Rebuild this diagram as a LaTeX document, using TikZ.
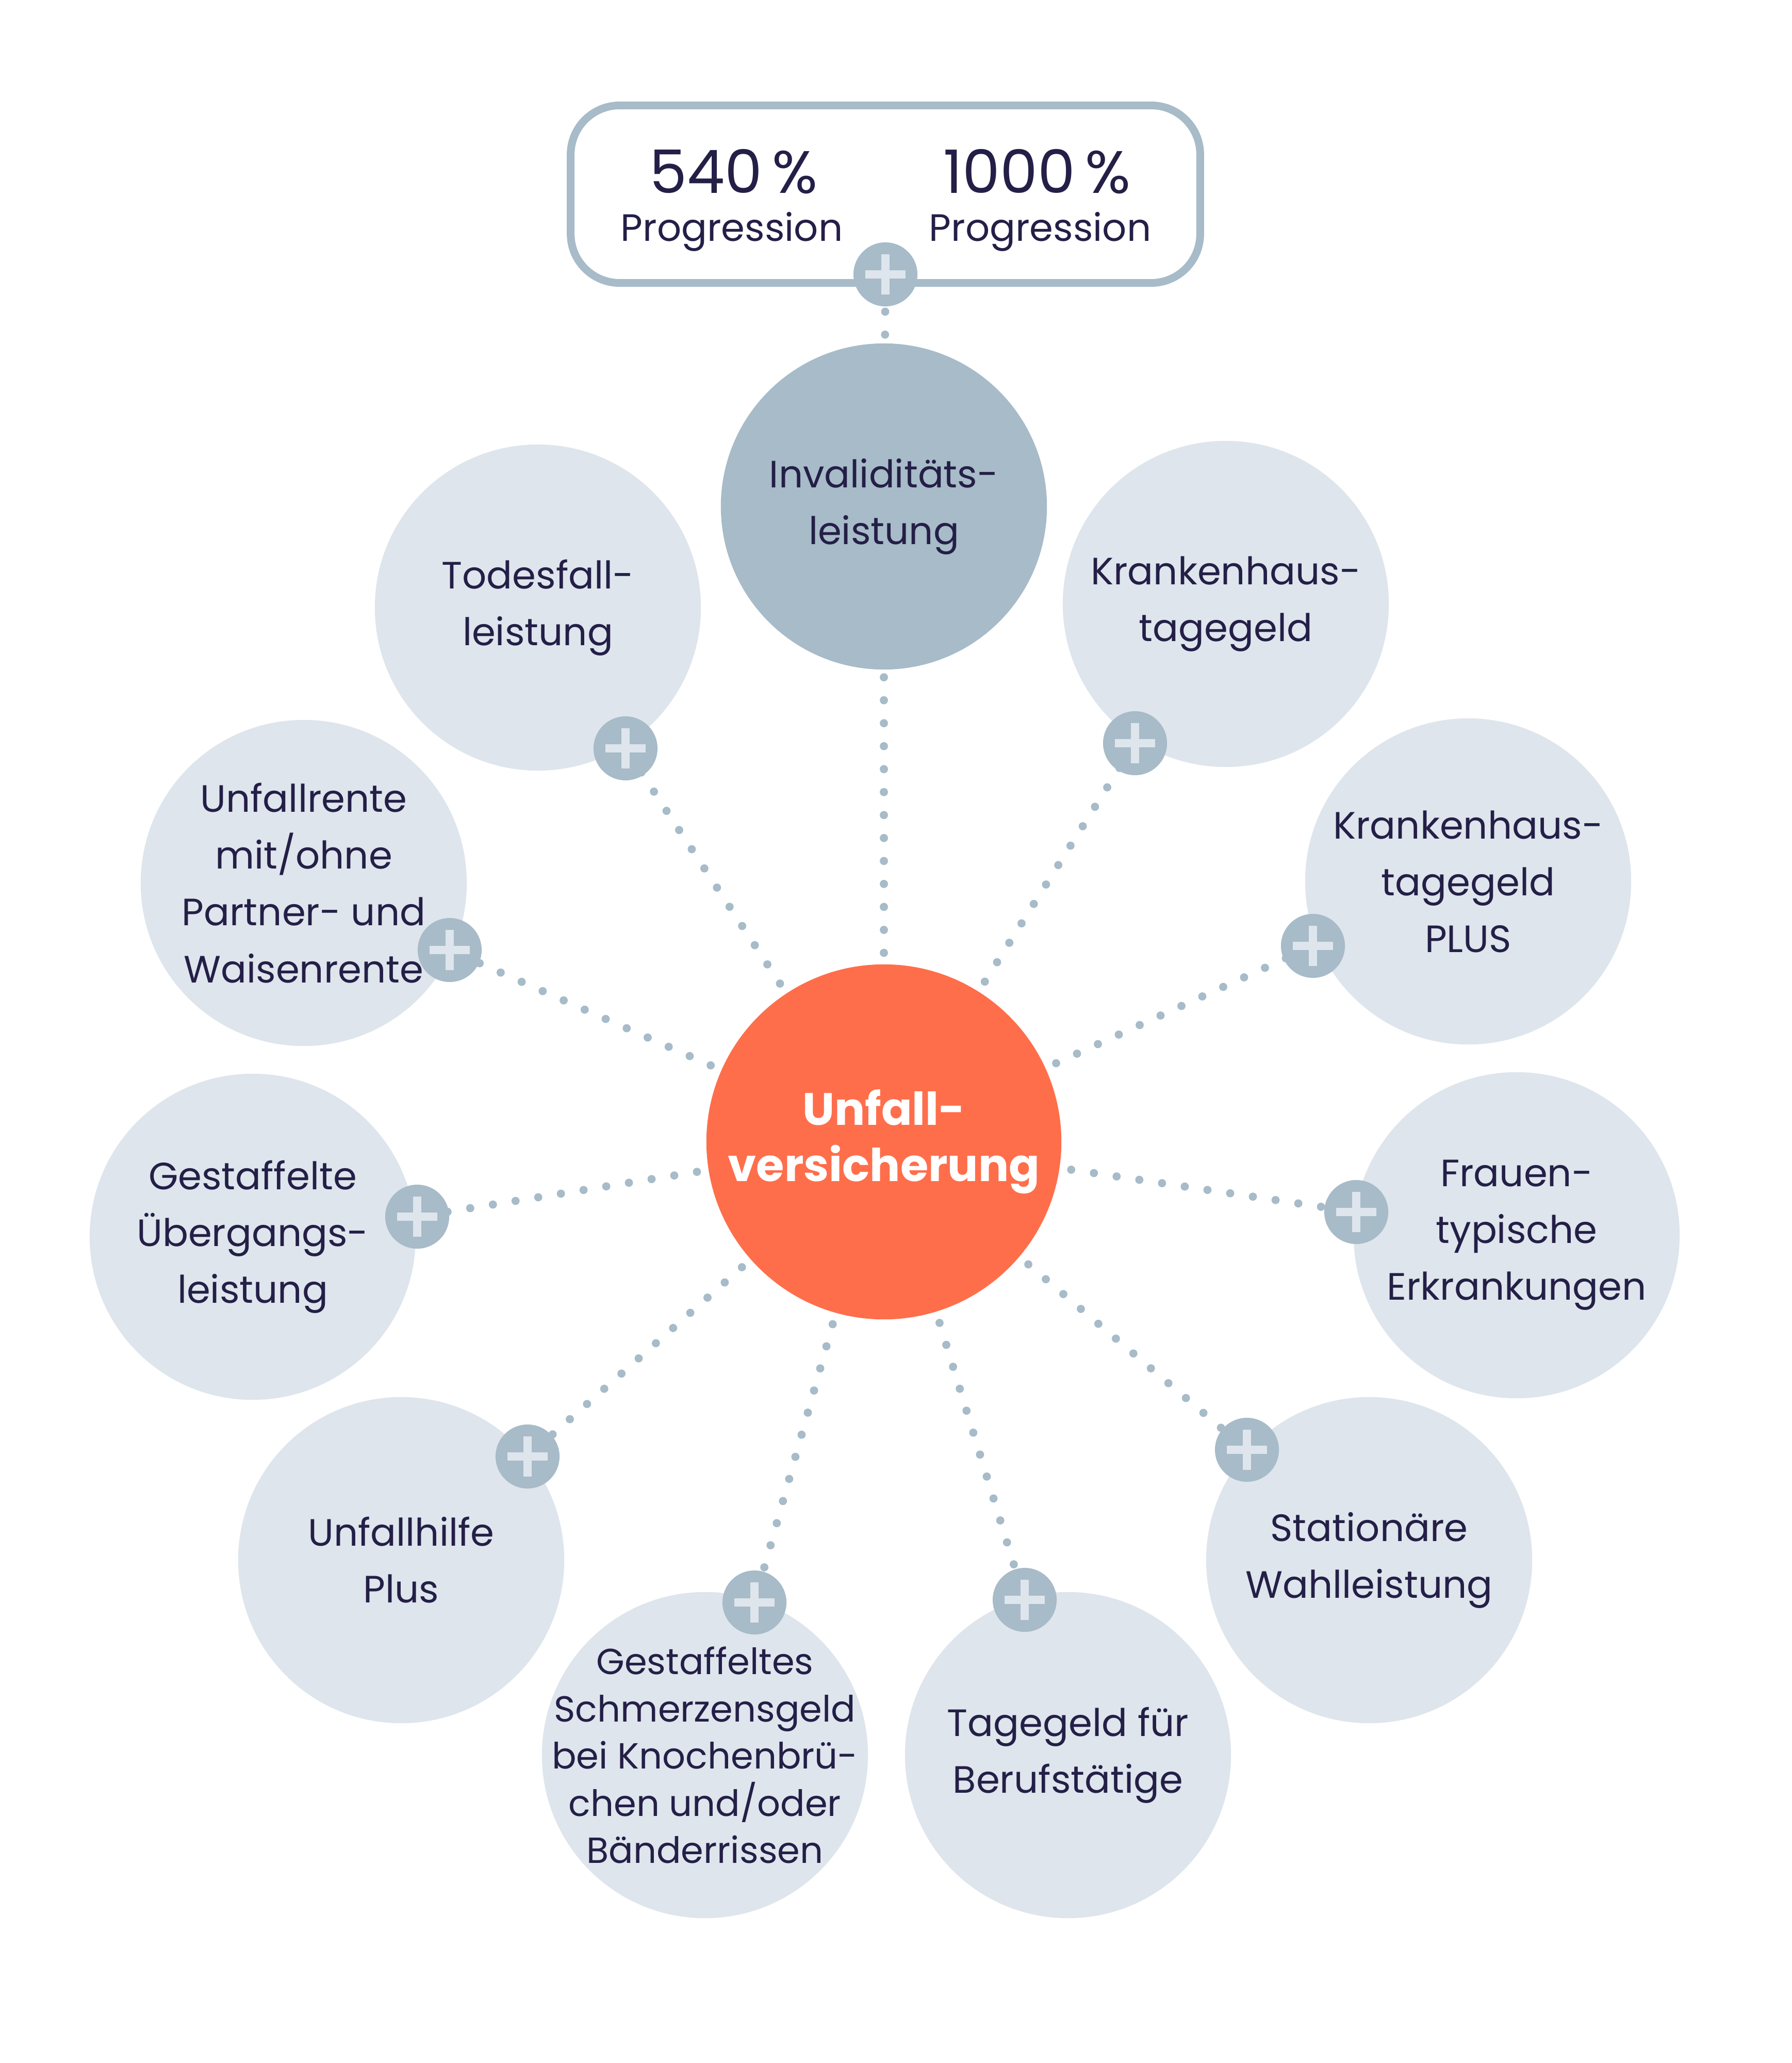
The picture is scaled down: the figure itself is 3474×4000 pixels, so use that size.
\documentclass[tikz,border=0pt]{standalone}
\usepackage{fontspec}
\setmainfont{Poppins}
\usetikzlibrary{calc}
\definecolor{navy}{HTML}{241F47}
\definecolor{steel}{HTML}{A7BBC8}
\definecolor{pale}{HTML}{DEE5EC}
\definecolor{accent}{HTML}{FF6E4B}
\begin{document}
\begin{tikzpicture}[x=0.01cm,y=-0.01cm,
  bubble/.style={circle,fill=pale,minimum size=6.32cm,inner sep=0pt,text=navy,align=center,
    font=\fontsize{21}{31.3}\selectfont},
  hub/.style={circle,fill=accent,minimum size=6.88cm,inner sep=0pt,text=white,align=center,
    font=\bfseries\fontsize{25}{31}\selectfont},
  plusdot/.style={circle,fill=steel,minimum size=1.24cm,inner sep=0pt,
    path picture={
      \fill[pale] ([xshift=-0.39cm,yshift=-0.08cm]path picture bounding box.center) rectangle ++(0.78cm,0.16cm);
      \fill[pale] ([xshift=-0.08cm,yshift=-0.39cm]path picture bounding box.center) rectangle ++(0.16cm,0.78cm);}},
  dotline/.style={steel,line width=4.5pt,line cap=round,dash pattern=on 0pt off 12.66pt},
  bignum/.style={text=navy,inner sep=0pt,font=\fontsize{33}{36}\selectfont},
  small/.style={text=navy,inner sep=0pt,font=\fontsize{21}{25}\selectfont},
]
\useasboundingbox (0,0) rectangle (3474,4000);

% top box
\node[draw=steel,line width=4.27pt,rounded corners=0.95cm,fill=white,minimum width=12.2cm,
  minimum height=3.44cm,inner sep=0pt] (box) at (1717,376.5) {};
\node[bignum,anchor=base] (n540) at (1423,375) {540\,\%};
\node[bignum,anchor=base] (n1000) at (2011,375) {1000\,\%};
\node[small,anchor=base] (pg1) at (1419,468) {Progression};
\node[small,anchor=base] (pg2) at (2017,468) {Progression};

% circles
\node[bubble,fill=steel] (inv) at (1714,982) {Invaliditäts-\\leistung};
\node[bubble] (tod) at (1043,1178) {Todesfall-\\leistung};
\node[bubble] (kh) at (2377,1171) {Krankenhaus-\\tagegeld};
\node[bubble,inner sep=-1cm] (ur) at (589,1712) {Unfallrente\\mit/ohne\\Partner- und\\Waisenrente};
\node[bubble] (khp) at (2847,1709) {Krankenhaus-\\tagegeld\\PLUS};
\node[bubble] (gu) at (490,2398) {Gestaffelte\\Übergangs-\\leistung};
\node[bubble] (fr) at (2941,2395) {Frauen-\\typische\\Erkrankungen};
\node[bubble] (uh) at (778,3025) {Unfallhilfe\\Plus};
\node[bubble] (st) at (2655,3025) {Stationäre\\Wahlleistung};
\node[bubble,inner sep=-1cm,font=\fontsize{20}{26}\selectfont] (sg) at (1367,3403) {Gestaffeltes\\Schmerzensgeld\\bei Knochenbrü-\\chen und/oder\\Bänderrissen};
\node[bubble] (tg) at (2071,3403) {Tagegeld für\\Berufstätige};

\node[hub] (c) at (1714,2214) {Unfall-\\versicherung};

% plus anchors
\coordinate (q0) at (1717,532);
\coordinate (q1) at (1213,1451);
\coordinate (q2) at (2201,1441);
\coordinate (q3) at (872,1842);
\coordinate (q4) at (2546,1834);
\coordinate (q5) at (809,2359);
\coordinate (q6) at (2630,2350);
\coordinate (q7) at (1023,2824);
\coordinate (q8) at (2418,2811);
\coordinate (q9) at (1463,3107);
\coordinate (q10) at (1987,3102);

% dotted connectors
\draw[dotline] ($(inv.center)!3.33cm!(q0)$) -- (q0);
\draw[dotline] ($(inv.center)!3.31cm!(c.center)$) -- (c.north);
\foreach \q in {q1,q2,q3,q4,q5,q6,q7,q8,q9,q10}{
  \draw[dotline] ($(c.center)!3.67cm!(\q)$) -- (\q);
}

% plus icons
\foreach \q in {q0,q1,q2,q3,q4,q5,q6,q7,q8,q9,q10}{
  \node[plusdot] (plus-\q) at (\q) {};
}
\end{tikzpicture}
\end{document}
